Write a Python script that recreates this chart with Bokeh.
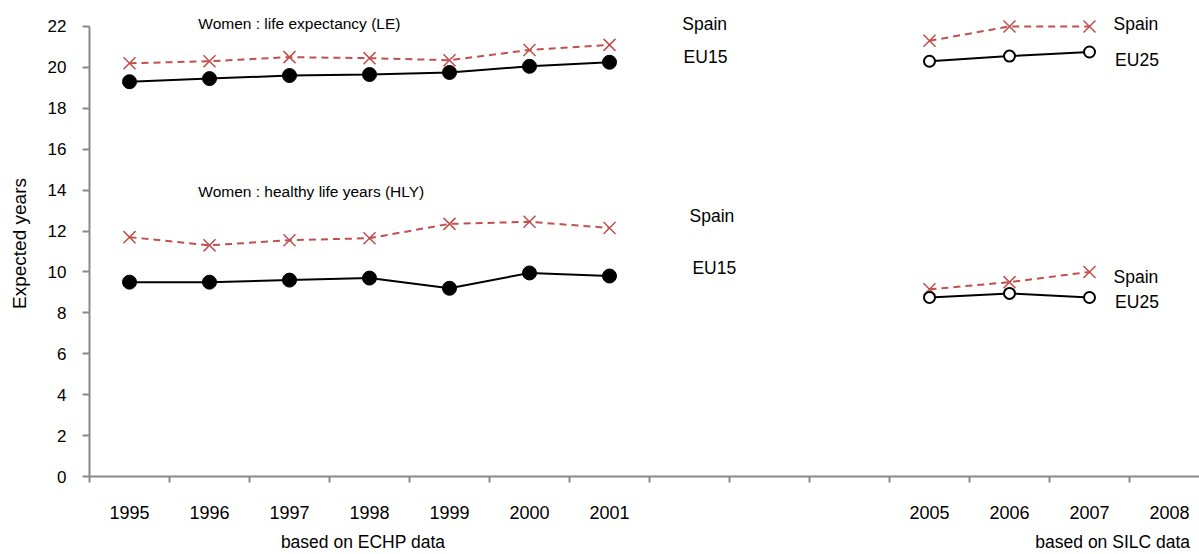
from bokeh.plotting import figure
from bokeh.models import Range1d, FixedTicker, Label, LinearAxis, AllLabels
from bokeh.embed import file_html
from bokeh.resources import INLINE

# ---- data ----
all_years = list(range(1995, 2009))
labelled_years = [1995, 1996, 1997, 1998, 1999, 2000, 2001, 2005, 2006, 2007, 2008]
years_echp = [1995, 1996, 1997, 1998, 1999, 2000, 2001]
years_silc = [2005, 2006, 2007]

le_spain_echp = [20.2, 20.3, 20.5, 20.45, 20.35, 20.85, 21.1]
le_eu15 = [19.3, 19.45, 19.6, 19.65, 19.75, 20.05, 20.25]
le_spain_silc = [21.3, 22.0, 22.0]
le_eu25 = [20.3, 20.55, 20.75]

hly_spain_echp = [11.7, 11.3, 11.55, 11.65, 12.35, 12.45, 12.15]
hly_eu15 = [9.5, 9.5, 9.6, 9.7, 9.2, 9.95, 9.8]
hly_spain_silc = [9.15, 9.5, 10.0]
hly_eu25 = [8.75, 8.95, 8.75]

y_ticks = list(range(0, 23, 2))

# annotations: (text, year-position, value, align)
series_labels = [
    ("Spain", 2002.19, 22.1, "center"),
    ("EU15", 2002.2, 20.49, "center"),
    ("Spain", 2002.28, 12.73, "center"),
    ("EU15", 2002.31, 10.2, "center"),
    ("Spain", 2007.3, 22.1, "left"),
    ("EU25", 2007.32, 20.34, "left"),
    ("Spain", 2007.3, 9.76, "left"),
    ("EU25", 2007.32, 8.54, "left"),
]
titles = [
    ("Women :  life expectancy (LE)", 1995.86, 22.15),
    ("Women :  healthy life years (HLY)", 1995.86, 13.95),
]
captions = ["based on ECHP data", "based on SILC data"]
caption_pos = [1997.92, 2007.29]

FONT = "Liberation Sans"
RED = "#c0504d"
AXIS_GREY = "#898989"

base = all_years[0]
def pos(ys):
    return [y - base for y in ys]

p = figure(width=1199, height=554, output_backend="svg", toolbar_location=None,
           x_range=Range1d(-0.5, 13.375), y_range=Range1d(0, 22.78),
           min_border_left=89, min_border_right=0, min_border_top=10, min_border_bottom=77)
p.outline_line_color = None
p.xgrid.visible = False
p.ygrid.visible = False
p.background_fill_color = "white"

# lines and markers
for xs, ys in [(years_echp, le_spain_echp), (years_silc, le_spain_silc),
               (years_echp, hly_spain_echp), (years_silc, hly_spain_silc)]:
    p.line(pos(xs), ys, line_color=RED, line_width=2, line_dash="7 5")
    p.scatter(pos(xs), ys, marker="x", size=17, line_color=RED, line_width=1.5)

for ys in [le_eu15, hly_eu15]:
    p.line(pos(years_echp), ys, line_color="black", line_width=2)
    p.scatter(pos(years_echp), ys, marker="circle", size=14, fill_color="black", line_color="black")

for ys in [le_eu25, hly_eu25]:
    p.line(pos(years_silc), ys, line_color="black", line_width=2)
    p.scatter(pos(years_silc), ys, marker="circle", size=11, fill_color="white",
              line_color="black", line_width=2)

# x axis
xticks = pos(labelled_years)
boundaries = [i - 0.5 for i in range(len(all_years))]
p.xaxis.ticker = FixedTicker(ticks=xticks, minor_ticks=boundaries)
p.xaxis.major_label_overrides = {t: str(y) for t, y in zip(xticks, labelled_years)}
p.xaxis.major_label_policy = AllLabels()
p.xaxis.major_tick_out = 0
p.xaxis.major_tick_in = 0
p.xaxis.minor_tick_out = 6
p.xaxis.minor_tick_in = 0
p.xaxis.minor_tick_line_color = AXIS_GREY
p.xaxis.minor_tick_line_width = 2
p.xaxis.axis_line_color = AXIS_GREY
p.xaxis.axis_line_width = 2
p.xaxis.major_label_standoff = 23
p.xaxis.major_label_text_font = FONT
p.xaxis.major_label_text_font_size = "18px"
p.xaxis.major_label_text_color = "black"

# caption axis (source notes under the year labels)
cpos = pos(caption_pos)
cap = LinearAxis(ticker=FixedTicker(ticks=cpos, minor_ticks=[]),
                 major_label_overrides={t: c for t, c in zip(cpos, captions)},
                 major_label_policy=AllLabels())
cap.axis_line_color = None
cap.major_tick_line_color = None
cap.minor_tick_line_color = None
cap.major_tick_out = 0
cap.major_tick_in = 0
cap.major_label_standoff = 10
cap.major_label_text_font = FONT
cap.major_label_text_font_size = "17.5px"
cap.major_label_text_color = "black"
p.add_layout(cap, "below")

# y axis
p.yaxis.ticker = FixedTicker(ticks=y_ticks, minor_ticks=[])
p.yaxis.bounds = (0, 22)
p.yaxis.major_tick_out = 7
p.yaxis.major_tick_in = 0
p.yaxis.major_tick_line_color = AXIS_GREY
p.yaxis.major_tick_line_width = 2
p.yaxis.axis_line_color = AXIS_GREY
p.yaxis.axis_line_width = 2
p.yaxis.major_label_standoff = 16
p.yaxis.major_label_text_font = FONT
p.yaxis.major_label_text_font_size = "17px"
p.yaxis.major_label_text_color = "black"
p.yaxis.axis_label = "Expected years"
p.yaxis.axis_label_text_font = FONT
p.yaxis.axis_label_text_font_size = "19px"
p.yaxis.axis_label_text_font_style = "normal"
p.yaxis.axis_label_text_color = "black"
p.yaxis.axis_label_standoff = 15

for txt, x, y in titles:
    p.add_layout(Label(x=x - base, y=y, text=txt, text_font=FONT, text_font_size="15.5px",
                       text_align="left", text_baseline="middle", text_color="black"))

for txt, x, y, al in series_labels:
    p.add_layout(Label(x=x - base, y=y, text=txt, text_font=FONT, text_font_size="17.5px",
                       text_align=al, text_baseline="middle", text_color="black"))

open("out.html", "w").write(file_html(p, INLINE))
